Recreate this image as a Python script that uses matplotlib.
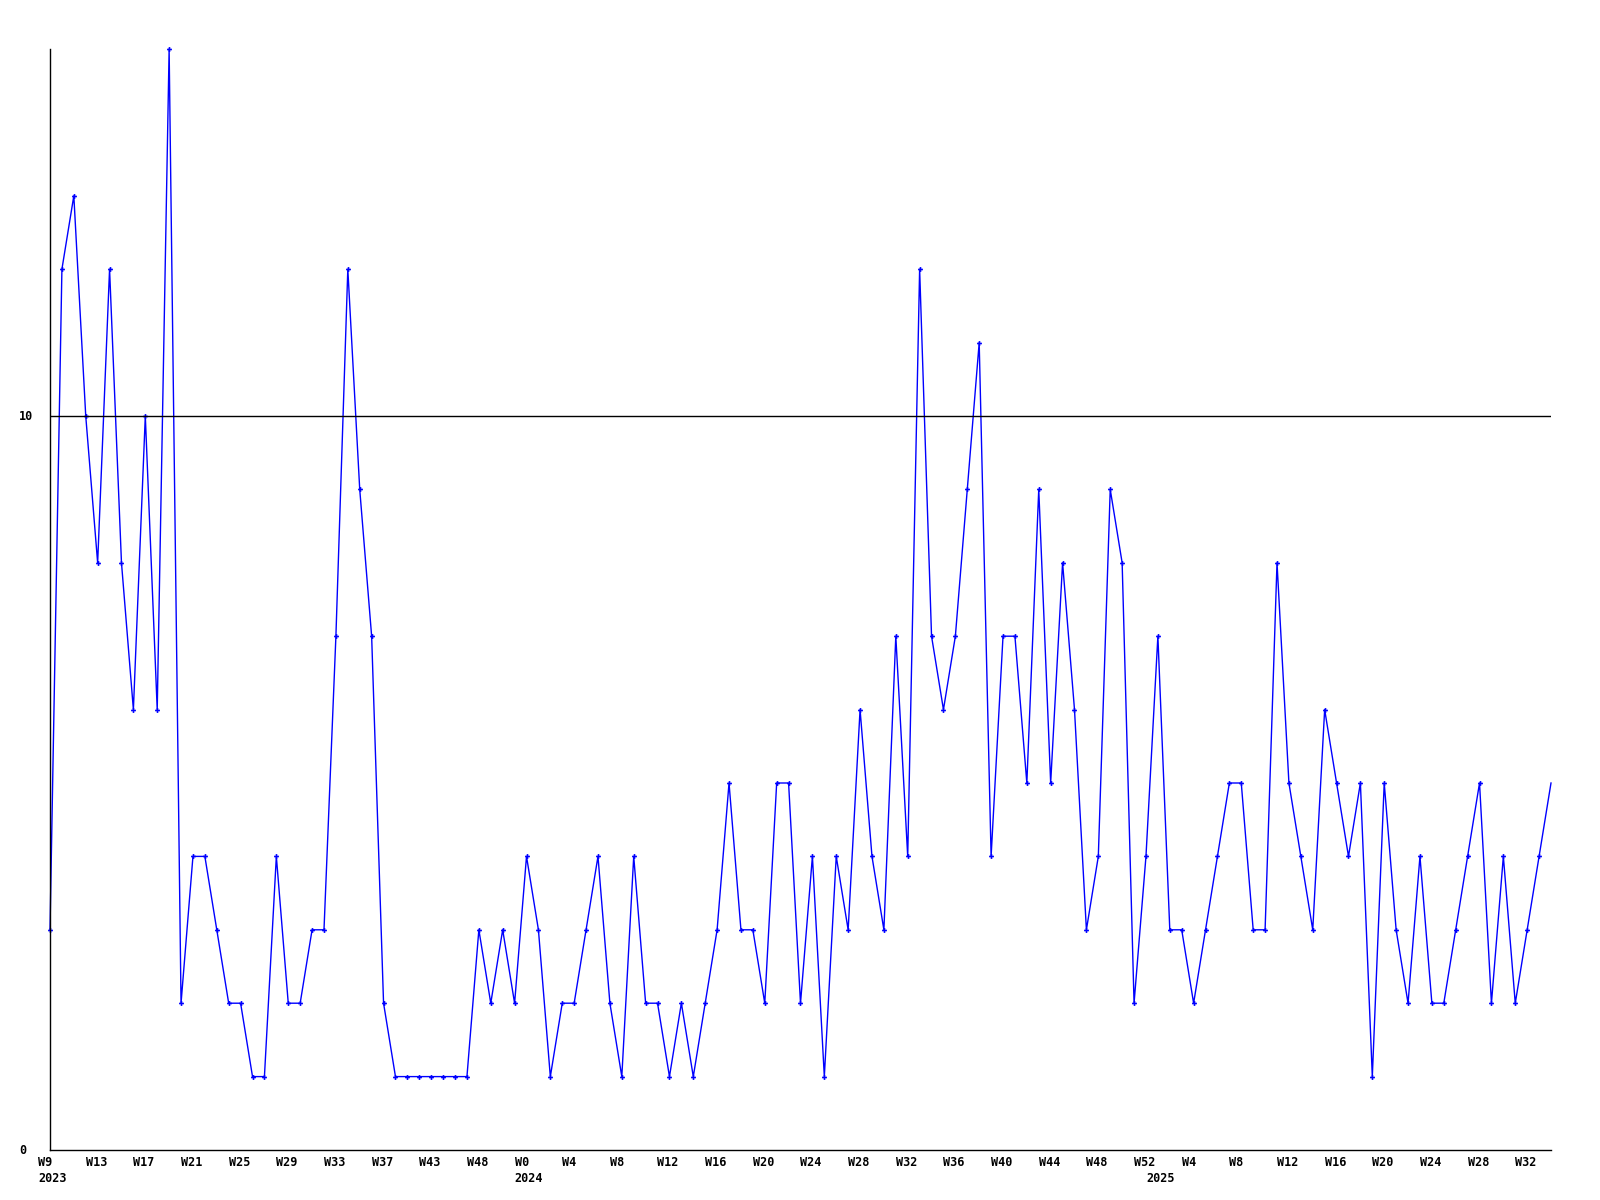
import matplotlib
matplotlib.use("Agg")
import matplotlib.pyplot as plt
from matplotlib.transforms import blended_transform_factory, ScaledTranslation

values = [3, 12, 13, 10, 8, 12, 8, 6, 10, 6,
          15, 2, 4, 4, 3, 2, 2, 1, 1, 4,
          2, 2, 3, 3, 7, 12, 9, 7, 2, 1,
          1, 1, 1, 1, 1, 1, 3, 2, 3, 2,
          4, 3, 1, 2, 2, 3, 4, 2, 1, 4,
          2, 2, 1, 2, 1, 2, 3, 5, 3, 3,
          2, 5, 5, 2, 4, 1, 4, 3, 6, 4,
          3, 7, 4, 12, 7, 6, 7, 9, 11, 4,
          7, 7, 5, 9, 5, 8, 6, 3, 4, 9,
          8, 2, 4, 7, 3, 3, 2, 3, 4, 5,
          5, 3, 3, 8, 5, 4, 3, 6, 5, 4,
          5, 1, 5, 3, 2, 4, 2, 2, 3, 4,
          5, 2, 4, 2, 3, 4, 5]

week_tick_idx = list(range(0, 125, 4))
week_labels = ["W9", "W13", "W17", "W21", "W25", "W29", "W33", "W37", "W43", "W48",
               "W0", "W4", "W8", "W12", "W16", "W20", "W24", "W28", "W32", "W36",
               "W40", "W44", "W48", "W52", "W4", "W8", "W12", "W16", "W20", "W24",
               "W28", "W32"]
year_idx = [0, 40, 93]
year_labels = ["2023", "2024", "2025"]
y_ticks = [0, 10]

fig = plt.figure(figsize=(16, 12), dpi=100)
ax = fig.add_axes([50/1600, 1 - 1150/1200, (1551 - 50)/1600, (1150 - 49)/1200])

x = list(range(len(values)))
ax.plot(x, values, color="#0000ff", lw=1.0, marker="P", ms=3.5, mew=0,
        markevery=list(range(len(values) - 1)), clip_on=False)
ax.axhline(10, color="black", lw=1.0)

ax.set_xlim(0, len(values) - 1)
ax.set_ylim(0, 15)
for s in ["top", "right"]:
    ax.spines[s].set_visible(False)
for s in ["left", "bottom"]:
    ax.spines[s].set_color("black")
    ax.spines[s].set_linewidth(1.0)
ax.set_xticks([])
ax.set_yticks([])

font = dict(family="DejaVu Sans Mono", fontweight="bold", fontsize=8.5, color="black")

tr_x = blended_transform_factory(ax.transData, ax.transAxes)
off_w = ScaledTranslation(-12/100, -6/100, fig.dpi_scale_trans)
off_y = ScaledTranslation(-12/100, -22/100, fig.dpi_scale_trans)
for i, lab in zip(week_tick_idx, week_labels):
    ax.text(i, 0, lab, transform=tr_x + off_w, ha="left", va="top", **font)
for i, lab in zip(year_idx, year_labels):
    ax.text(i, 0, lab, transform=tr_x + off_y, ha="left", va="top", **font)

tr_y = blended_transform_factory(fig.transFigure, ax.transData)
for v in y_ticks:
    ax.text(19/1600, v, str(v), transform=tr_y, ha="left", va="center", **font)

fig.savefig("out.png", dpi=100, facecolor="white")
